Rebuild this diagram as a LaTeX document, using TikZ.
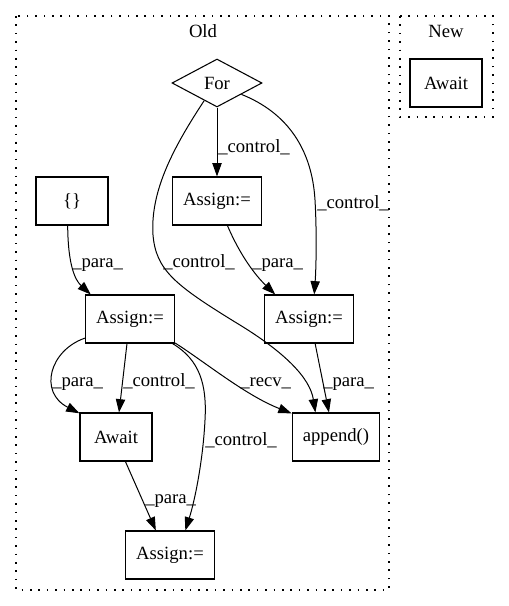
\documentclass[tikz,border=0pt]{standalone}
\usepackage{fontspec}
\setmainfont{Liberation Serif}
\usetikzlibrary{arrows.meta,shapes.geometric}

\begin{document}
\begin{tikzpicture}[
    x=0.75pt, y=-0.75pt,
    font=\fontsize{14pt}{16pt}\selectfont,
    >={Triangle[length=10pt,width=7pt]},
    opBox/.style={draw, line width=0.8pt, minimum width=54pt, minimum height=36pt, inner xsep=8pt},
    loopShape/.style={draw, diamond, line width=0.8pt, minimum width=67.5pt, minimum height=36pt, inner sep=0pt},
    flowEdge/.style={->, line width=0.75pt},
    edgeLbl/.style={anchor=base west, inner sep=0pt},
    clusterBox/.style={line width=0.9pt, dash pattern=on 1.2pt off 5.1pt}
]
    \useasboundingbox (0,0) rectangle (509,606);

    % ---------------- clusters ----------------
    \draw[clusterBox] (16,16) rectangle (389,590);
    \draw[clusterBox] (400,16) rectangle (493,117);
    \node[anchor=base] (oldTitle) at (203,38) {Old};
    \node[anchor=base] (newTitle) at (446,38) {New};

    % ---------------- nodes (old) ----------------
    \node[loopShape] (forLoop) at (217,83) {For};
    \node[opBox] (assignTop) at (217,201) {Assign:=};
    \node[opBox] (dictLit) at (72,201) {\{\}};
    \node[opBox] (assignLeft) at (130,319) {Assign:=};
    \node[opBox] (assignRight) at (309,319) {Assign:=};
    \node[opBox] (awaitOld) at (116,437) {Await};
    \node[opBox] (appendCall) at (336,437) {append()};
    \node[opBox] (assignBottom) at (170,555) {Assign:=};

    % ---------------- nodes (new) ----------------
    \node[opBox] (awaitNew) at (446,83) {Await};

    % ---------------- edges ----------------
    \draw[flowEdge] (forLoop.south) -- (assignTop.north);
    \draw[flowEdge] (forLoop.-25) .. controls (288,113) and (312,150) .. (315,200)
        .. controls (317,235) and (316,270) .. (assignRight.78);
    \draw[flowEdge] (forLoop.-126) .. controls (175,145) and (150,190) .. (153,235)
        .. controls (156,270) and (175,285) .. (235,322)
        .. controls (285,352) and (310,378) .. (appendCall.130);
    \draw[flowEdge] (assignTop.-67) .. controls (240,255) and (255,275) .. (assignRight.144);
    \draw[flowEdge] (dictLit.-100) .. controls (68,265) and (75,280) .. (assignLeft.148);
    \draw[flowEdge] (assignLeft.-157) .. controls (50,350) and (38,392) .. (awaitOld.147);
    \draw[flowEdge] (assignLeft.-97) -- (awaitOld.83);
    \draw[flowEdge] (assignLeft.-30) .. controls (200,360) and (207,385) .. (205,420)
        .. controls (203,460) and (195,500) .. (assignBottom.58);
    \draw[flowEdge] (assignLeft.-28) .. controls (205,362) and (245,395) .. (appendCall.152);
    \draw[flowEdge] (assignRight.-76) -- (appendCall.106);
    \draw[flowEdge] (awaitOld.-69) -- (assignBottom.120);

    % ---------------- edge labels ----------------
    \node[edgeLbl] (lblForTop) at (218,152) {\_control\_};
    \node[edgeLbl] (lblForRight) at (317,208) {\_control\_};
    \node[edgeLbl] (lblForAppend) at (163,267) {\_control\_};
    \node[edgeLbl] (lblTopRight) at (252,267) {\_para\_};
    \node[edgeLbl] (lblDict) at (72,267) {\_para\_};
    \node[edgeLbl] (lblLeftAwait) at (52,386) {\_para\_};
    \node[edgeLbl] (lblLeftAwaitCtl) at (123,386) {\_control\_};
    \node[edgeLbl] (lblRecv) at (240,386) {\_recv\_};
    \node[edgeLbl] (lblRightAppend) at (323,386) {\_para\_};
    \node[edgeLbl] (lblLeftBottom) at (205,445) {\_control\_};
    \node[edgeLbl] (lblAwaitBottom) at (145,503) {\_para\_};

\end{tikzpicture}
\end{document}
